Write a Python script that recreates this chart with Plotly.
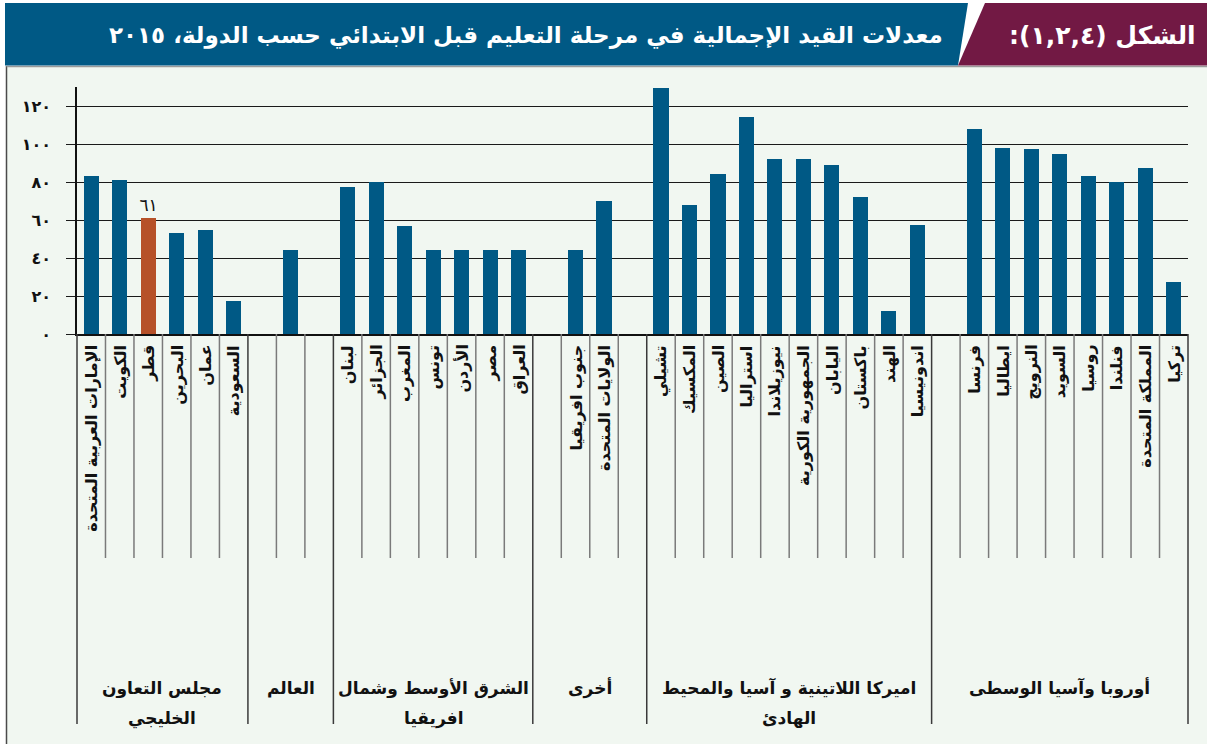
import plotly.graph_objects as go

# ---- data -------------------------------------------------------------
gcc_names = ["الإمارات العربية المتحدة", "الكويت", "قطر", "البحرين", "عمان", "السعودية"]
gcc_values = [83, 81, 61, 53, 55, 17.5]

world_names = ["", "", ""]
world_values = [None, 44, None]

mena_names = ["لبنان", "الجزائر", "المغرب", "تونس", "الأردن", "مصر", "العراق"]
mena_values = [77.5, 80, 57, 44, 44, 44, 44]

other_names = ["", "جنوب افريقيا", "الولايات المتحدة", ""]
other_values = [None, 44, 70, None]

asia_names = ["تشيلي", "المكسيك", "الصين", "استراليا", "نيوزيلاندا",
              "الجمهورية الكورية", "اليابان", "باكستان", "الهند", "اندونيسيا"]
asia_values = [129.5, 68, 84, 114, 92, 92, 89, 72, 12, 57.5]

europe_names = ["", "فرنسا", "ايطاليا", "النرويج", "السويد", "روسيا",
                "فنلندا", "المملكة المتحدة", "تركيا"]
europe_values = [None, 108, 98, 97.5, 95, 83, 80, 87.5, 27.5]

group_titles = [
    ["مجلس التعاون", "الخليجي"],
    ["العالم"],
    ["الشرق الأوسط وشمال", "افريقيا"],
    ["أخرى"],
    ["اميركا اللاتينية و آسيا والمحيط", "الهادئ"],
    ["أوروبا وآسيا الوسطى"],
]
highlight = "قطر"

y_ticks = [0, 20, 40, 60, 80, 100, 120]

fig_title = "معدلات القيد الإجمالية في مرحلة التعليم قبل الابتدائي حسب الدولة، ٢٠١٥"
fig_number = "الشكل (١,٢,٤):"

# ---- styling ------------------------------------------------------------
BLUE = "#005985"
ORANGE = "#b65129"
MAROON = "#721944"
PANEL = "#f1f7f1"
FONT = "DejaVu Sans"
RLM = "\u200f"

W, H = 1207, 744
ML, MR, MT, MB = 77, 19, 87, 410
PW = W - ML - MR
PH = H - MT - MB


def fx(px):
    return (px - ML) / PW


def fy(py):
    return (H - MB - py) / PH


def arabic_digits(v):
    s = str(int(round(v)))
    return s.translate(str.maketrans("0123456789", "٠١٢٣٤٥٦٧٨٩"))


# ---- slot layout ----------------------------------------------------------
group_names = [gcc_names, world_names, mena_names, other_names, asia_names, europe_names]
group_values = [gcc_values, world_values, mena_values, other_values, asia_values, europe_values]

names, values, bounds = [], [], [0]
for gn, gv in zip(group_names, group_values):
    names += gn
    values += gv
    bounds.append(len(names))
n_slots = len(names)
slots = list(range(n_slots))

colors = [ORANGE if n == highlight else BLUE for n in names]
bar_text = [arabic_digits(v) if n == highlight else "" for n, v in zip(names, values)]

fig = go.Figure()
fig.add_trace(go.Bar(
    x=slots, y=values, width=0.53,
    marker=dict(color=colors, line=dict(width=0)),
    text=bar_text, textposition="outside", cliponaxis=False,
    constraintext="none",
    textfont=dict(family=FONT, size=17, color="#111"),
    hoverinfo="skip",
))

shapes = []
# panel background and frame
shapes.append(dict(type="rect", xref="paper", yref="paper", layer="below",
                   x0=fx(6.5), x1=fx(W + 2), y0=fy(66), y1=fy(H + 2),
                   fillcolor=PANEL, line=dict(width=0)))
shapes.append(dict(type="line", xref="paper", yref="paper",
                   x0=fx(6.5), x1=fx(6.5), y0=fy(66), y1=fy(H + 2),
                   line=dict(color="#4a4a4a", width=1.5)))
shapes.append(dict(type="line", xref="paper", yref="paper",
                   x0=fx(6.5), x1=fx(W + 2), y0=fy(66.5), y1=fy(66.5),
                   line=dict(color="#9a9a9a", width=1.5)))
# header bands
blue_path = "M {} {} L {} {} L {} {} L {} {} Z".format(
    fx(5), fy(3), fx(968), fy(3), fx(958), fy(65.5), fx(5), fy(65.5))
maroon_path = "M {} {} L {} {} L {} {} L {} {} Z".format(
    fx(985), fy(3), fx(W + 2), fy(3), fx(W + 2), fy(65.5), fx(958), fy(65.5))
shapes.append(dict(type="path", xref="paper", yref="paper", path=blue_path,
                   fillcolor=BLUE, line=dict(width=0)))
shapes.append(dict(type="path", xref="paper", yref="paper", path=maroon_path,
                   fillcolor=MAROON, line=dict(width=0)))

# category and group dividers under the axis
for k in range(n_slots + 1):
    xp = k / n_slots
    if k in bounds:
        shapes.append(dict(type="line", xref="paper", yref="paper",
                           x0=xp, x1=xp, y0=fy(334), y1=fy(724),
                           line=dict(color="#3a3a3a", width=1.5)))
    else:
        shapes.append(dict(type="line", xref="paper", yref="paper",
                           x0=xp, x1=xp, y0=fy(334), y1=fy(558),
                           line=dict(color="#7a7a7a", width=1.5)))

annotations = []
# rotated country labels
for i, n in enumerate(names):
    if n:
        annotations.append(dict(
            x=i, xref="x", y=fy(343), yref="paper",
            text=n, textangle=-90, showarrow=False,
            xanchor="center", yanchor="top",
            font=dict(family=FONT, size=16, color="#111", weight="bold"),
        ))
# group titles
for gi, lines in enumerate(group_titles):
    cx = (bounds[gi] + bounds[gi + 1]) / 2 / n_slots
    for li, line in enumerate(lines):
        annotations.append(dict(
            x=cx, xref="paper", y=fy(688 + 30 * li), yref="paper",
            text=line, showarrow=False, xanchor="center", yanchor="middle",
            font=dict(family=FONT, size=17, color="#111", weight="bold"),
        ))
# header texts
annotations.append(dict(
    x=fx(945), xref="paper", y=fy(36), yref="paper",
    text=RLM + fig_title + RLM, showarrow=False, xanchor="right", yanchor="middle",
    font=dict(family=FONT, size=23, color="white", weight="bold"),
))
annotations.append(dict(
    x=fx(1198), xref="paper", y=fy(36), yref="paper",
    text=RLM + fig_number + RLM, showarrow=False, xanchor="right", yanchor="middle",
    font=dict(family=FONT, size=25, color="white", weight="bold"),
))

fig.update_layout(
    width=W, height=H,
    margin=dict(l=ML, r=MR, t=MT, b=MB, pad=0),
    paper_bgcolor="white", plot_bgcolor="rgba(0,0,0,0)",
    showlegend=False, bargap=0,
    shapes=shapes, annotations=annotations,
    xaxis=dict(range=[-0.5, n_slots - 0.5], showgrid=False, zeroline=False,
               showticklabels=False, ticks="", showline=True,
               linecolor="#111", linewidth=1.5, fixedrange=True),
    yaxis=dict(range=[0, 130], tickvals=y_ticks,
               ticktext=[arabic_digits(v) for v in y_ticks],
               showgrid=True, gridcolor="#1a1a1a", gridwidth=1.3,
               zeroline=False, showline=True, linecolor="#111", linewidth=1.5,
               ticks="outside", ticklen=9, tickwidth=1.3, tickcolor="#1a1a1a",
               ticklabelstandoff=12,
               tickfont=dict(family=FONT, size=16, color="#111", weight="bold"),
               fixedrange=True),
)

fig.write_html("out.html")
